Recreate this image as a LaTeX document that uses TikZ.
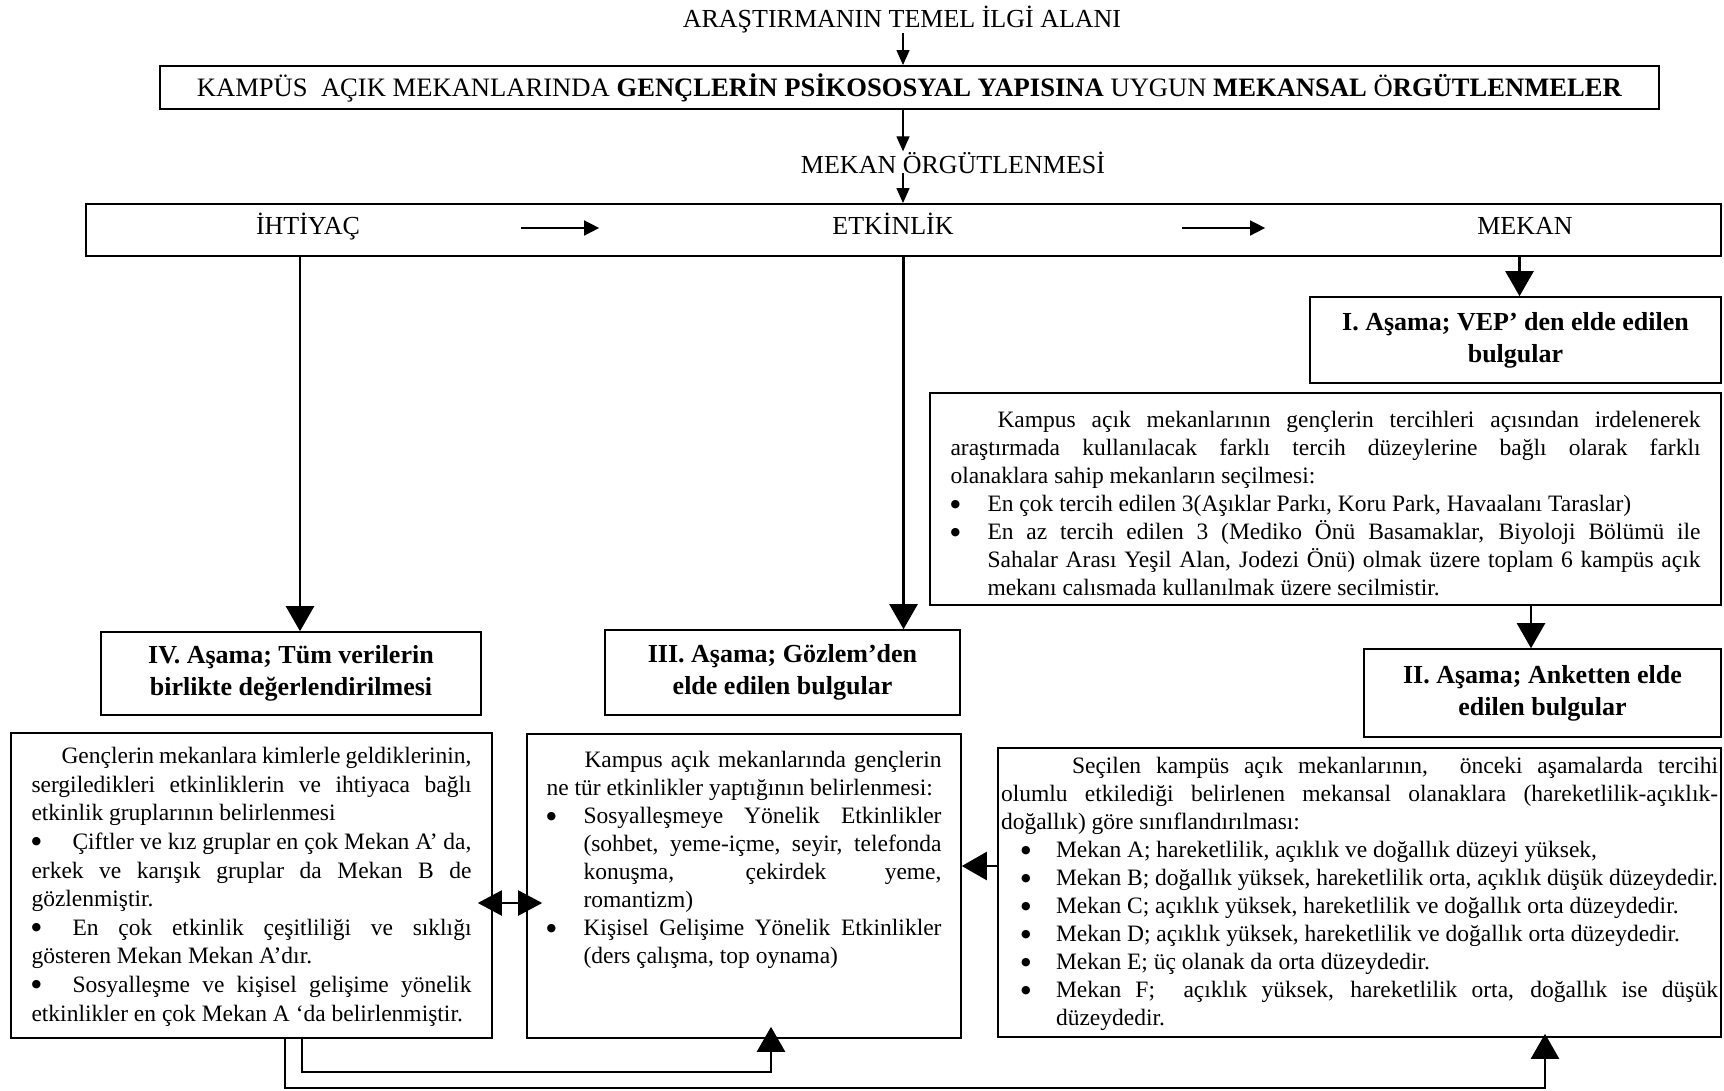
\documentclass[tikz,border=0pt]{standalone}
\usepackage{fontspec}
\setmainfont{Liberation Serif}
\newfontfamily\bltfont{DejaVu Sans}
\usetikzlibrary{arrows.meta,positioning,calc}

% top-aligned text block: width, height, top gap, text
\newcommand{\boxpar}[4]{\parbox[c][#2][t]{#1}{\tolerance=9999\hyphenpenalty=10000
  \vspace*{#3}\strut#4}}
\newcommand{\blt}{\raisebox{4.5pt}{\bltfont\fontsize{11}{12}\selectfont ●}}
\newcommand{\itm}[2]{{\hangindent=#1\hangafter=1 \makebox[#1][l]{\blt}#2\par}}
\newcommand{\ibul}[2]{{\makebox[#1][l]{\blt}#2\par}}

\tikzset{
  box/.style      ={draw=black,line width=1.6pt,inner sep=0pt,align=center},
  topbox/.style   ={box,line width=1.9pt,font=\fontsize{26}{30}\selectfont},
  stagebox/.style ={box,font=\fontsize{26}{32}\selectfont\bfseries},
  textbox/.style  ={box,inner ysep=0pt,font=\fontsize{23.5}{28}\selectfont},
  lbl/.style      ={inner sep=0pt,font=\fontsize{26}{30}\selectfont},
  tarrow/.style   ={-{Triangle[length=15pt,width=13pt]},line width=1.3pt},
  sarrow/.style   ={-{Triangle[length=15pt,width=15pt]},line width=1.5pt},
  flow/.style     ={-{Triangle[length=25pt,width=28pt]},line width=2.4pt},
  dflow/.style    ={{Triangle[length=24pt,width=25pt]}-{Triangle[length=24pt,width=25pt]},line width=2.2pt},
}

\begin{document}
\begin{tikzpicture}[x=1pt,y=1pt]
\useasboundingbox (0,0) rectangle (1724,-1090);

% main topic
\coordinate (axis) at (903,0);
\node[lbl,anchor=base] (ilgi) at (902,-27.5) {ARAŞTIRMANIN TEMEL İLGİ ALANI};
\node[topbox,minimum width=1499pt,minimum height=43pt,font=\fontsize{26.6}{30}\selectfont] (kampus) at (909.5,-87.5)
  {KAMPÜS~~AÇIK MEKANLARINDA \textbf{GENÇLERİN PSİKOSOSYAL YAPISINA} UYGUN \textbf{MEKANSAL} Ö\textbf{RGÜTLENMELER}};
\node[lbl,anchor=base] (orgut) at (953,-173) {MEKAN ÖRGÜTLENMESİ};
\node[topbox,minimum width=1635pt,minimum height=52pt] (ieo) at (903.5,-230) {};
\node[lbl,anchor=base] (ihtiyac) at (308,-234) {İHTİYAÇ};
\node[lbl,anchor=base] (etkinlik) at (893,-234) {ETKİNLİK};
\node[lbl,anchor=base] (mekan) at (1525,-234) {MEKAN};

\draw[tarrow] (ilgi.south -| axis) -- (kampus.north -| axis);
\draw[tarrow] (kampus.south -| axis) -- (orgut.north -| axis);
\draw[tarrow] (orgut.south -| axis) -- (ieo.north -| axis);
\draw[sarrow,shorten <=161pt,shorten >=233pt] ([yshift=6pt]ihtiyac.base east) -- ([yshift=6pt]etkinlik.base west);
\draw[sarrow,shorten <=228pt,shorten >=212pt] ([yshift=6pt]etkinlik.base east) -- ([yshift=6pt]mekan.base west);

% stages
\node[stagebox,minimum width=411pt,minimum height=86pt] (asama1) at (1515.5,-340)
  {I. Aşama; VEP’ den elde edilen\\bulgular};
\node[stagebox,minimum width=357pt,minimum height=88pt] (asama2) at (1542.5,-693)
  {II. Aşama; Anketten elde\\edilen bulgular};
\node[stagebox,minimum width=355pt,minimum height=85pt] (asama3) at (782.5,-672.5)
  {III. Aşama; Gözlem’den\\elde edilen bulgular};
\node[stagebox,minimum width=380pt,minimum height=83pt] (asama4) at (291,-673.5)
  {IV. Aşama; Tüm verilerin\\birlikte değerlendirilmesi};

% findings
\node[textbox,inner xsep=20.5pt] (vepbox) at (1325.5,-499)
  {\boxpar{750pt}{212pt}{15pt}{\hspace*{47pt}Kampus açık mekanlarının gençlerin tercihleri açısından irdelenerek\linebreak
   araştırmada kullanılacak farklı tercih düzeylerine bağlı olarak farklı\linebreak
   olanaklara sahip mekanların seçilmesi:\par
   \itm{37pt}{En çok tercih edilen 3(Aşıklar Parkı, Koru Park, Havaalanı Taraslar)}
   \itm{37pt}{En az tercih edilen 3 (Mediko Önü Basamaklar, Biyoloji Bölümü ile\linebreak
   Sahalar Arası Yeşil Alan, Jodezi Önü) olmak üzere toplam 6 kampüs açık\linebreak
   mekanı calısmada kullanılmak üzere secilmistir.}}};
\node[textbox,inner xsep=3pt] (anketbox) at (1359.5,-892.5)
  {\boxpar{717pt}{289pt}{6pt}{\hspace*{71pt}Seçilen kampüs açık mekanlarının,~ önceki aşamalarda tercihi\linebreak
   olumlu etkilediği belirlenen mekansal olanaklara (hareketlilik-açıklık-\linebreak
   doğallık) göre sınıflandırılması:\par
   \leftskip=20pt
   \itm{35pt}{Mekan A; hareketlilik, açıklık ve doğallık düzeyi yüksek,}
   \itm{35pt}{Mekan B; doğallık yüksek, hareketlilik orta, açıklık düşük düzeydedir.}
   \itm{35pt}{Mekan C; açıklık yüksek, hareketlilik ve doğallık orta düzeydedir.}
   \itm{35pt}{Mekan D; açıklık yüksek, hareketlilik ve doğallık orta düzeydedir.}
   \itm{35pt}{Mekan E; üç olanak da orta düzeydedir.}
   \itm{35pt}{Mekan F;~ açıklık yüksek, hareketlilik orta, doğallık ise düşük\linebreak düzeydedir.}}};
\node[textbox,inner xsep=19.5pt] (gozlembox) at (744,-886)
  {\boxpar{395pt}{304pt}{14pt}{\hspace*{38pt}Kampus açık mekanlarında gençlerin\linebreak
   ne tür etkinlikler yaptığının belirlenmesi:\par
   \itm{37pt}{Sosyalleşmeye Yönelik Etkinlikler\linebreak (sohbet, yeme-içme, seyir, telefonda\linebreak
   konuşma, çekirdek yeme,\linebreak romantizm)}
   \itm{37pt}{Kişisel Gelişime Yönelik Etkinlikler\linebreak (ders çalışma, top oynama)}}};
\node[textbox,inner xsep=20.5pt] (tumbox) at (251.5,-885.5)
  {\boxpar{440pt}{305pt}{11pt}{\baselineskip=28.6pt\hspace*{30pt}Gençlerin mekanlara kimlerle geldiklerinin,\linebreak
   sergiledikleri etkinliklerin ve ihtiyaca bağlı\linebreak
   etkinlik gruplarının belirlenmesi\par
   \ibul{41pt}{Çiftler ve kız gruplar en çok Mekan A’ da,\linebreak
   erkek ve karışık gruplar da Mekan B de\linebreak gözlenmiştir.}
   \ibul{41pt}{En çok etkinlik çeşitliliği ve sıklığı\linebreak
   gösteren Mekan Mekan A’dır.}
   \ibul{41pt}{Sosyalleşme ve kişisel gelişime yönelik\linebreak
   etkinlikler en çok Mekan A \textquoteleft da belirlenmiştir.}}};

% connectors
\draw[flow] ([xshift=9pt]asama4.north |- ieo.south) -- ([xshift=9pt]asama4.north);
\draw[flow] (ieo.south) -- (ieo.south |- asama3.north);
\draw[flow] ([xshift=4pt]asama1.north |- ieo.south) -- ([xshift=4pt]asama1.north);
\draw[flow] ([xshift=-11.5pt]asama2.north |- vepbox.south) -- ([xshift=-11.5pt]asama2.north);
\draw[flow] ([yshift=26.5pt]anketbox.west) -- ([yshift=26.5pt]anketbox.west -| gozlembox.east);
\draw[dflow,shorten <=-15pt,shorten >=-16pt] ([yshift=-17.5pt]tumbox.east) -- ([yshift=-17.5pt]tumbox.east -| gozlembox.west);
\draw[flow,shorten >=-12pt] ([xshift=50.5pt]tumbox.south) -- ++(0,-33) -| ([xshift=27pt]gozlembox.south);
\draw[flow,shorten >=-4pt] ([xshift=33.5pt]tumbox.south) -- ++(0,-49) -| ([xshift=185.5pt]anketbox.south);
\end{tikzpicture}
\end{document}
